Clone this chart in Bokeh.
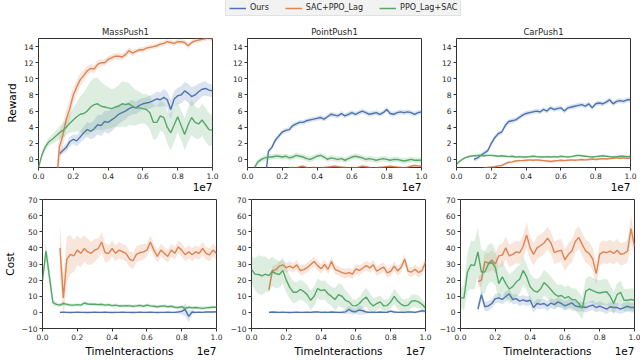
import numpy as np
from bokeh.plotting import figure
from bokeh.models import Legend, LegendItem, PrintfTickFormatter, Range1d, LinearAxis, FixedTicker
from bokeh.layouts import column, row
from bokeh.embed import file_html
from bokeh.resources import INLINE

# ---------------- data ----------------
SERIES = ["Ours", "SAC+PPO_Lag", "PPO_Lag+SAC"]
COLORS = ["#4c72b0", "#dd8452", "#55a868"]
TASKS = ["MassPush1", "PointPush1", "CarPush1"]
X_TICKS = [0.0, 0.2, 0.4, 0.6, 0.8, 1.0]
REWARD_TICKS = [0, 2, 4, 6, 8, 10, 12, 14]
COST_TICKS = [-10, 0, 10, 20, 30, 40, 50, 60, 70]
REWARD_RANGE = [-1, 15]
COST_RANGE = [-10, 70]
X_LABEL = "TimeInteractions"
X_OFFSET_TEXT = "1e7"

# x start (in units of 1e7) of each series: Ours, SAC+PPO_Lag, PPO_Lag+SAC
mass_rew_start = [0.12, 0.10, 0.0]
point_rew_start = [0.10, 0.10, 0.04]
car_rew_start = [0.10, 0.10, 0.0]
cost_start = [0.10, 0.10, 0.0]

# ---- MassPush1 reward
mass_rew_blue = [0.7, 1.1, 1.5, 2.2, 2.5, 2.3, 2.8, 3.3, 3.7, 3.5,
                 3.8, 4.3, 4.2, 4.7, 4.6, 4.9, 5.2, 5.6, 5.8, 6.0,
                 6.3, 6.5, 6.4, 6.7, 6.9, 7.0, 7.1, 7.3, 7.5, 7.4,
                 7.7, 7.4, 6.2, 7.5, 7.9, 8.0, 8.5, 8.2, 7.8, 8.0,
                 8.4, 8.7, 8.8, 8.6, 8.5]
mass_rew_blue_sd = [0.3, 0.4, 0.5, 0.6, 0.6, 0.7, 0.7, 0.8, 0.9, 1.0,
                    1.1, 1.2, 1.3, 1.3, 1.4, 1.4, 1.3, 1.2, 1.1, 1.0,
                    0.9, 0.9, 0.8, 0.8, 0.7, 0.7, 0.8, 0.8, 0.9, 0.9,
                    1.0, 1.0, 1.2, 1.0, 1.0, 1.1, 1.1, 1.2, 1.2, 1.1,
                    1.0, 0.9, 0.9, 0.8, 0.8]
mass_rew_orange = [-4.0, 1.5, 3.0, 5.0, 6.3, 8.0, 9.0, 9.9, 10.4, 11.0,
                   11.3, 11.2, 11.8, 12.0, 12.0, 12.4, 12.6, 12.8, 12.8, 12.7,
                   13.0, 13.5, 13.2, 13.4, 13.6, 13.6, 13.8, 13.9, 14.0, 14.1,
                   14.3, 14.4, 14.6, 14.5, 14.4, 14.6, 14.6, 14.5, 14.1, 14.5,
                   14.7, 14.8, 14.9, 15.0, 15.1, 14.9]
mass_rew_orange_sd = [2.0, 2.0, 1.5, 1.3, 1.2, 1.0, 0.9, 0.8, 0.7, 0.6,
                      0.5, 0.5, 0.5, 0.4, 0.4, 0.4, 0.4, 0.4, 0.4, 0.4,
                      0.4, 0.4, 0.4, 0.3, 0.3, 0.3, 0.3, 0.3, 0.3, 0.3,
                      0.3, 0.3, 0.3, 0.3, 0.3, 0.3, 0.3, 0.3, 0.4, 0.3,
                      0.3, 0.3, 0.3, 0.3, 0.3, 0.3]
mass_rew_green = [-1.0, 0.6, 1.6, 2.2, 2.5, 2.9, 3.3, 3.6, 4.0, 4.5,
                  4.9, 5.3, 5.6, 5.7, 6.0, 6.5, 6.8, 6.9, 6.6, 6.5,
                  6.4, 6.3, 6.5, 6.6, 6.9, 6.8, 6.9, 6.6, 6.4, 6.4,
                  6.3, 6.2, 5.8, 4.6, 4.6, 5.4, 5.2, 4.0, 3.3, 4.3,
                  5.3, 4.2, 3.1, 4.3, 5.2, 4.6, 4.4, 4.9, 4.3, 3.7,
                  3.6]
mass_rew_green_sd = [0.3, 0.4, 0.5, 0.5, 0.6, 0.7, 0.8, 0.9, 1.0, 1.2,
                     1.5, 1.8, 2.2, 2.6, 3.0, 3.2, 3.3, 3.2, 3.0, 2.8,
                     2.6, 2.4, 2.4, 2.6, 2.8, 2.8, 2.6, 2.4, 2.2, 2.0,
                     1.8, 1.9, 2.1, 2.2, 2.0, 1.8, 1.9, 2.0, 2.2, 2.1,
                     1.9, 1.8, 2.0, 2.1, 2.2, 2.0, 1.9, 2.0, 2.1, 2.0,
                     1.9]

# ---- PointPush1 reward
point_rew_blue = [-3.0, 1.0, 1.5, 2.4, 2.9, 3.4, 3.6, 3.7, 4.2, 4.4,
                  4.6, 4.6, 4.8, 4.9, 5.0, 5.1, 5.2, 5.0, 5.3, 5.6,
                  5.5, 5.4, 5.7, 5.4, 5.6, 5.8, 5.6, 5.8, 6.0, 5.8,
                  5.6, 5.7, 5.8, 5.6, 5.8, 6.2, 5.7, 5.6, 5.8, 5.9,
                  5.8, 5.9, 5.8, 5.6, 5.8, 5.9]
point_rew_blue_sd = 0.3
point_rew_orange = [-1.5, -1.3, -1.2, -1.3, -1.2, -1.1, -1.2, -1.1, -1.0, -1.1,
                    -0.9, -0.85, -1.0, -1.1, -1.0, -1.05, -1.1, -1.0, -0.95, -0.9,
                    -0.85, -0.9, -0.95, -1.0, -1.1, -1.0, -1.05, -0.95, -0.85, -0.9,
                    -1.0, -1.1, -1.05, -1.0, -0.95, -0.9, -0.85, -0.9, -0.95, -1.0,
                    -1.05, -0.95, -0.85, -0.75, -0.8, -0.85]
point_rew_orange_sd = 0.15
point_rew_green = [-1.0, -0.3, 0.0, 0.2, 0.3, 0.3, 0.4, 0.4, 0.3, 0.4,
                   0.2, 0.3, 0.5, 0.4, 0.3, 0.1, 0.0, 0.2, 0.4, 0.5,
                   0.3, 0.0, 0.2, 0.1, 0.0, 0.1, -0.1, 0.1, 0.3, 0.4,
                   0.3, 0.2, 0.0, 0.1, 0.0, -0.1, 0.0, 0.1, 0.0, -0.1,
                   0.0, 0.0, -0.1, -0.2, -0.1, 0.0, -0.1, -0.1, -0.1]
point_rew_green_sd = 0.35

# ---- CarPush1 reward
car_rew_blue = [0.0, 0.2, 0.5, 0.8, 1.1, 2.0, 2.7, 3.2, 3.4, 4.2,
                4.7, 4.8, 4.9, 5.2, 5.5, 5.7, 5.8, 5.9, 6.0, 5.9,
                6.2, 6.0, 6.4, 6.2, 6.3, 6.4, 6.0, 6.4, 6.5, 6.6,
                6.7, 6.8, 6.6, 6.9, 6.4, 6.9, 7.0, 6.9, 7.1, 7.4,
                6.9, 7.2, 7.3, 7.2, 7.4, 7.4]
car_rew_blue_sd = 0.3
car_rew_orange = [-1.4, -1.3, -1.2, -1.1, -1.0, -0.95, -0.9, -0.8, -0.75, -0.55,
                  -0.35, -0.3, -0.2, -0.15, -0.15, -0.1, -0.05, -0.1, -0.05, -0.1,
                  -0.15, -0.2, -0.25, -0.2, -0.15, -0.1, -0.15, -0.1, -0.05, -0.1,
                  -0.05, 0.0, -0.05, 0.0, 0.05, 0.0, 0.05, 0.1, 0.05, 0.1,
                  0.15, 0.2, 0.15, 0.2, 0.15, 0.15]
car_rew_orange_sd = 0.15
car_rew_green = [-0.6, -0.2, 0.1, 0.3, 0.4, 0.45, 0.5, 0.5, 0.45, 0.5,
                 0.5, 0.45, 0.4, 0.45, 0.4, 0.35, 0.4, 0.3, 0.35, 0.3,
                 0.3, 0.35, 0.4, 0.35, 0.3, 0.3, 0.35, 0.3, 0.35, 0.3,
                 0.4, 0.35, 0.3, 0.35, 0.45, 0.5, 0.45, 0.4, 0.35, 0.3,
                 0.35, 0.4, 0.45, 0.4, 0.35, 0.3, 0.35, 0.4, 0.4, 0.35,
                 0.4]
car_rew_green_sd = 0.15

# ---- MassPush1 cost
mass_cost_blue = [0.0, 0.1, 0.0, -0.1, 0.0, 0.1, 0.0, 0.0, -0.1, 0.0,
                  0.1, 0.0, 0.0, 0.1, 0.0, -0.1, 0.0, 0.0, 0.1, 0.0,
                  0.0, -0.1, 0.0, 0.1, 0.0, 0.0, 0.1, 0.0, -0.1, 0.0,
                  0.0, 0.1, 0.0, 0.0, 0.2, 0.6, 1.8, -2.5, 0.2, 0.0,
                  0.1, 0.0, 0.2, 0.3, 0.2, 0.4]
mass_cost_blue_sd = [0.5, 0.5, 0.5, 0.5, 0.5, 0.5, 0.5, 0.5, 0.5, 0.5,
                     0.5, 0.5, 0.5, 0.5, 0.5, 0.5, 0.5, 0.5, 0.5, 0.5,
                     0.5, 0.5, 0.5, 0.5, 0.5, 0.5, 0.5, 0.5, 0.5, 0.5,
                     0.5, 0.5, 0.5, 0.5, 0.8, 2.0, 4.0, 3.5, 1.5, 0.5,
                     0.5, 0.5, 0.5, 0.5, 0.5, 0.5]
mass_cost_orange = [40.0, 9.0, 33.0, 36.0, 35.0, 38.6, 36.6, 39.6, 37.5, 36.6,
                    38.6, 39.6, 43.6, 37.0, 36.6, 39.6, 36.6, 38.6, 37.6, 36.6,
                    33.0, 32.0, 36.0, 37.0, 37.5, 38.6, 43.6, 38.6, 34.7, 38.6,
                    36.6, 34.7, 38.6, 36.6, 40.6, 38.6, 35.7, 37.6, 35.7, 37.6,
                    36.6, 39.6, 36.6, 35.7, 38.6, 36.6]
mass_cost_orange_sd = [16, 14, 14, 12, 10, 9, 9, 8, 8, 7,
                       7, 6, 6, 6, 5, 5, 5, 5, 5, 5,
                       5, 5, 5, 5, 5, 4, 4, 4, 4, 4,
                       4, 4, 4, 4, 4, 4, 4, 4, 4, 4,
                       4, 4, 4, 4, 4, 4]
mass_cost_green = [20.0, 38.0, 22.0, 6.0, 5.0, 4.5, 5.5, 5.0, 4.5, 4.5,
                   4.8, 4.5, 5.8, 5.2, 5.0, 5.0, 4.8, 5.0, 4.5, 4.8,
                   4.2, 4.5, 4.0, 4.0, 4.2, 4.0, 3.8, 4.0, 4.3, 3.8,
                   4.5, 4.0, 3.8, 3.5, 3.8, 4.0, 3.5, 3.8, 3.2, 3.0,
                   3.5, 2.5, 3.2, 2.8, 3.0, 2.8, 2.5, 2.8, 3.0, 3.2,
                   3.2]
mass_cost_green_sd = [3.0, 6.0, 6.0, 2.0, 1.5, 1.2, 1.2, 1.0, 1.0, 1.0,
                      1.0, 1.0, 1.2, 1.0, 1.0, 1.0, 1.0, 1.0, 1.0, 1.0,
                      1.0, 1.0, 1.0, 1.0, 1.0, 1.0, 1.0, 1.0, 1.0, 1.0,
                      1.0, 1.0, 1.0, 1.0, 1.0, 1.0, 1.0, 1.0, 1.0, 1.0,
                      1.0, 1.0, 1.0, 1.0, 1.0, 1.0, 1.0, 1.0, 1.0, 1.0,
                      1.0]

# ---- PointPush1 cost
point_cost_blue = [0.0, 0.2, 0.1, 0.0, 0.1, 0.0, -0.1, 0.0, 0.1, 0.0,
                   0.0, 0.1, 0.0, 0.2, 0.3, 0.0, 0.1, 0.0, 0.2, 0.1,
                   0.0, 0.1, 0.3, 1.8, 0.5, 0.4, 1.5, 1.0, 0.2, 0.0,
                   0.1, 0.0, 0.2, 0.0, 0.1, 0.8, 0.2, 0.0, 0.1, 0.0,
                   0.3, 0.2, 0.0, 0.5, 1.0, 0.6]
point_cost_blue_sd = [0.5, 0.5, 0.5, 0.5, 0.5, 0.5, 0.5, 0.5, 0.5, 0.5,
                      0.5, 0.5, 0.5, 0.5, 0.5, 0.5, 0.5, 0.5, 0.5, 0.5,
                      0.5, 0.8, 1.5, 2.5, 2.0, 1.5, 3.0, 2.5, 1.0, 0.5,
                      0.5, 0.5, 0.5, 0.5, 0.5, 1.0, 0.8, 0.5, 0.5, 0.5,
                      0.5, 0.5, 0.5, 0.8, 1.0, 0.8]
point_cost_orange = [14.0, 26.0, 26.5, 28.7, 29.5, 27.7, 28.7, 27.5, 29.5, 26.0,
                     26.5, 27.7, 29.7, 31.5, 29.0, 27.0, 29.7, 26.7, 31.5, 26.7,
                     25.7, 24.7, 24.0, 24.7, 23.7, 27.0, 26.0, 27.5, 29.0, 27.5,
                     29.5, 25.5, 27.0, 28.0, 24.5, 25.5, 28.7, 25.7, 28.0, 33.0,
                     25.5, 25.0, 26.7, 24.7, 26.0, 31.0]
point_cost_orange_sd = 3.0
point_cost_green = [26.7, 23.7, 23.5, 22.7, 23.7, 22.8, 25.5, 24.0, 23.5, 26.0,
                    20.0, 15.5, 12.5, 12.5, 14.2, 13.0, 11.0, 7.5, 10.0, 14.8,
                    13.5, 14.0, 11.5, 9.9, 8.0, 11.0, 10.0, 7.5, 6.5, 4.2,
                    4.0, 5.5, 8.0, 9.5, 6.0, 4.0, 5.5, 6.5, 4.0, 4.2,
                    6.5, 9.9, 7.0, 5.0, 4.0, 4.5, 6.9, 7.3, 6.5, 5.0,
                    2.5]
point_cost_green_sd = [8, 10, 12, 12, 11, 10, 9, 9, 8, 8,
                       8, 7, 7, 6, 6, 6, 6, 6, 6, 6,
                       6, 6, 6, 6, 7, 7, 7, 6, 5, 4,
                       4, 4, 5, 6, 6, 5, 4, 4, 4, 4,
                       4, 5, 5, 4, 4, 4, 4, 4, 4, 3,
                       3]

# ---- CarPush1 cost
car_cost_blue = [2.0, 11.0, 3.5, 4.0, 5.5, 8.5, 9.0, 8.0, 9.8, 11.5,
                 8.0, 8.5, 7.0, 7.8, 6.9, 7.5, 3.0, 5.5, 5.0, 5.5,
                 4.0, 5.8, 4.8, 6.5, 5.5, 4.0, 5.0, 5.9, 4.0, 3.5,
                 3.5, 3.0, 3.9, 4.5, 3.0, 3.9, 3.0, 2.0, 3.5, 3.0,
                 3.0, 2.0, 3.0, 3.8, 3.0, 3.0]
car_cost_blue_sd = 3.0
car_cost_orange = [19.0, 20.0, 31.5, 30.5, 32.5, 30.0, 35.0, 35.5, 40.0, 35.0,
                   36.0, 37.5, 37.0, 41.0, 48.0, 40.0, 36.0, 40.0, 41.5, 43.0,
                   46.0, 43.0, 37.0, 38.0, 38.5, 32.5, 36.0, 38.0, 44.0, 46.5,
                   42.0, 38.0, 36.5, 33.0, 24.0, 36.0, 37.5, 37.0, 38.0, 36.5,
                   38.5, 36.0, 36.5, 38.0, 52.0, 41.0]
car_cost_orange_sd = [3, 4, 6, 6, 6, 6, 7, 7, 7, 7,
                      7, 7, 7, 7, 8, 7, 7, 7, 7, 7,
                      7, 7, 7, 7, 7, 7, 7, 7, 7, 7,
                      7, 7, 7, 7, 7, 7, 7, 7, 7, 7,
                      7, 7, 7, 7, 8, 7]
car_cost_green = [8.9, 9.0, 25.0, 29.5, 29.0, 37.5, 25.0, 25.0, 30.0, 31.0,
                  28.0, 17.8, 22.0, 18.0, 14.5, 16.0, 18.8, 20.5, 26.0, 22.0,
                  16.0, 13.5, 12.5, 14.5, 18.5, 16.5, 14.0, 11.5, 10.0, 10.5,
                  8.8, 9.8, 8.0, 7.9, 5.5, 2.5, 13.0, 14.5, 13.5, 12.5,
                  12.0, 12.5, 12.8, 10.0, 5.5, 11.0, 12.5, 7.5, 7.5, 8.0,
                  7.5]
car_cost_green_sd = [6, 8, 12, 15, 15, 15, 14, 13, 12, 12,
                     11, 10, 10, 9, 9, 9, 9, 9, 9, 8,
                     8, 8, 8, 8, 8, 8, 8, 8, 7, 7,
                     7, 7, 7, 7, 7, 7, 8, 8, 8, 8,
                     8, 8, 8, 7, 7, 7, 7, 7, 7, 7,
                     7]

# ---------------- layout constants ----------------
FONT = "DejaVu Sans"
FW, FH = 174, 129
TEXT_C = "#262626"
# tick positions used only to place the centred x-label and the right-aligned "1e7"
LABEL_POS = 0.5
OFFSET_POS = 0.943

REWARD_PANELS = [
    (mass_rew_start, [(mass_rew_blue, mass_rew_blue_sd), (mass_rew_orange, mass_rew_orange_sd), (mass_rew_green, mass_rew_green_sd)]),
    (point_rew_start, [(point_rew_blue, point_rew_blue_sd), (point_rew_orange, point_rew_orange_sd), (point_rew_green, point_rew_green_sd)]),
    (car_rew_start, [(car_rew_blue, car_rew_blue_sd), (car_rew_orange, car_rew_orange_sd), (car_rew_green, car_rew_green_sd)]),
]
COST_PANELS = [
    (cost_start, [(mass_cost_blue, mass_cost_blue_sd), (mass_cost_orange, mass_cost_orange_sd), (mass_cost_green, mass_cost_green_sd)]),
    (cost_start, [(point_cost_blue, point_cost_blue_sd), (point_cost_orange, point_cost_orange_sd), (point_cost_green, point_cost_green_sd)]),
    (cost_start, [(car_cost_blue, car_cost_blue_sd), (car_cost_orange, car_cost_orange_sd), (car_cost_green, car_cost_green_sd)]),
]
BORDER_LEFT = [38, 24, 24]
BORDER_RIGHT = [11, 11, 9]


def style_axis(ax):
    ax.axis_line_color = None
    ax.major_tick_out = 3
    ax.major_tick_in = 0
    ax.minor_tick_out = 0
    ax.minor_tick_in = 0
    ax.major_tick_line_color = "#333333"
    ax.major_label_text_font = FONT
    ax.major_label_text_font_size = "7.5px"
    ax.major_label_text_color = TEXT_C
    ax.major_label_standoff = 2
    ax.axis_label_text_font = FONT
    ax.axis_label_text_font_size = "10.5px"
    ax.axis_label_text_font_style = "normal"
    ax.axis_label_text_color = "black"
    ax.axis_label_standoff = 3


def make_panel(col, top, starts, series):
    yr = REWARD_RANGE if top else COST_RANGE
    p = figure(frame_width=FW, frame_height=FH,
               x_range=Range1d(0, 1), y_range=Range1d(yr[0], yr[1]),
               toolbar_location=None, output_backend="svg",
               min_border_left=BORDER_LEFT[col], min_border_right=BORDER_RIGHT[col],
               min_border_top=21 if top else 5, min_border_bottom=27 if top else 31,
               background_fill_color="white", border_fill_color="white")
    p.grid.visible = False
    p.outline_line_color = "#333333"
    p.outline_line_width = 1
    style_axis(p.xaxis[0])
    style_axis(p.yaxis[0])
    p.xaxis.ticker = X_TICKS
    p.xaxis.formatter = PrintfTickFormatter(format="%.1f")
    if top:
        p.yaxis.ticker = REWARD_TICKS
        if col == 0:
            p.yaxis.axis_label = "Reward"
        p.title.text = TASKS[col]
        p.title.align = "center"
        p.title.text_font = FONT
        p.title.text_font_size = "8.5px"
        p.title.text_font_style = "normal"
        p.title.text_color = TEXT_C
        p.title.standoff = 3
    else:
        p.yaxis.ticker = COST_TICKS
        p.yaxis.major_label_overrides = {-10: "\u221210"}
        if col == 0:
            p.yaxis.axis_label = "Cost"

    # second (text-only) axis: x-label centred, offset "1e7" at the right end
    if top:
        ticks = [OFFSET_POS]
        overrides = {OFFSET_POS: X_OFFSET_TEXT}
    else:
        ticks = [LABEL_POS, OFFSET_POS]
        overrides = {LABEL_POS: X_LABEL, OFFSET_POS: X_OFFSET_TEXT}
    ax2 = LinearAxis(ticker=FixedTicker(ticks=ticks), major_label_overrides=overrides)
    style_axis(ax2)
    ax2.major_tick_out = 0
    ax2.major_tick_line_color = None
    ax2.major_label_text_font_size = "10.5px"
    ax2.major_label_text_color = "black"
    ax2.major_label_standoff = 1 if top else 2
    p.add_layout(ax2, "below")

    for (vals, sd), start, color in zip(series, starts, COLORS):
        y = np.asarray(vals, dtype=float)
        s = np.broadcast_to(np.asarray(sd, dtype=float), y.shape)
        x = np.linspace(start, 1.0, len(y))
        p.varea(x=x, y1=y - s, y2=y + s, fill_color=color, fill_alpha=0.2)
        p.line(x, y, line_color=color, line_width=1.4)
    return p


top_row = [make_panel(i, True, s, d) for i, (s, d) in enumerate(REWARD_PANELS)]
bot_row = [make_panel(i, False, s, d) for i, (s, d) in enumerate(COST_PANELS)]

# legend strip
lf = figure(width=638, height=17, toolbar_location=None, output_backend="svg",
            x_axis_location=None, y_axis_location=None, min_border=0,
            x_range=Range1d(0, 1), y_range=Range1d(0, 1))
lf.grid.visible = False
lf.outline_line_color = None
items = []
for name, c in zip(SERIES, COLORS):
    r = lf.line(x=[0, 1], y=[-5, -5], line_color=c, line_width=1.5)
    items.append(LegendItem(label=name, renderers=[r]))
leg = Legend(items=items, orientation="horizontal", location=(225, 1),
             label_text_font=FONT, label_text_font_size="8px", label_text_color=TEXT_C,
             glyph_width=17, glyph_height=8, label_height=8, label_width=10,
             label_standoff=4, spacing=16, padding=3, margin=0,
             background_fill_color="#f2f2f2", background_fill_alpha=1.0,
             border_line_color="#d0d0d0", border_line_width=1)
lf.add_layout(leg, "center")

layout = column(lf, row(*top_row), row(*bot_row))
open("out.html", "w").write(file_html(layout, INLINE))
